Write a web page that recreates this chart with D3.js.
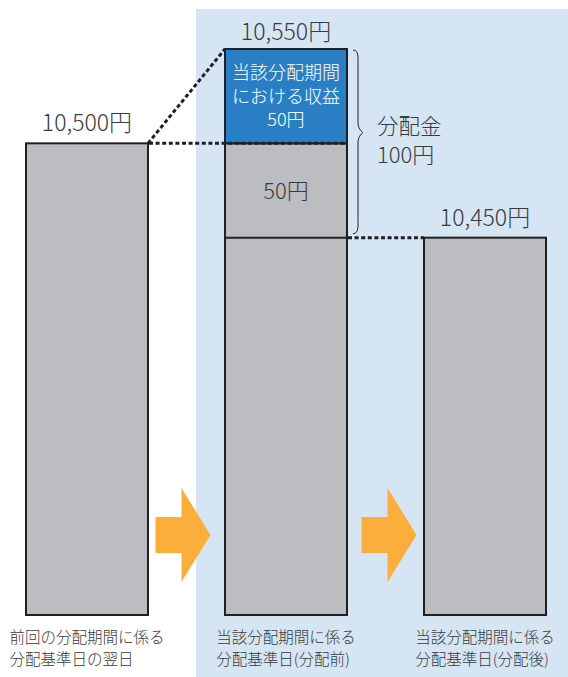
<!DOCTYPE html>
<meta charset="utf-8">
<style>
body { margin: 0; background: #fff; }
svg text { font-family: "Noto Sans CJK JP", "Noto Sans", sans-serif; font-weight: 300; fill: #3a3a3a; }
.bar { stroke: #231f20; stroke-width: 2; }
.dash { fill: none; stroke: #231f20; stroke-width: 3; stroke-dasharray: 4 2.6; }
</style>
<body>
<div id="chart"></div>
<script src="https://d3js.org/d3.v7.min.js"></script>
<script>

// data
var categories = [
  ["前回の分配期間に係る", "分配基準日の翌日"],
  ["当該分配期間に係る", "分配基準日(分配前)"],
  ["当該分配期間に係る", "分配基準日(分配後)"]
];
var navValues   = [10500, 10550, 10450];   // yen
var incomePart  = 50;                      // 当該分配期間における収益
var capitalPart = 50;                      // rest of the distribution
var distTotal   = incomePart + capitalPart;
var yBase = 10250;

var width = 568, height = 677;

var svg = d3.select("#chart").append("svg")
    .attr("width", width)
    .attr("height", height);

var x = d3.scaleBand()
    .domain(d3.range(categories.length))
    .range([26, 546])
    .paddingInner(0.387)
    .paddingOuter(0);

var y = d3.scaleLinear()
    .domain([yBase, navValues[1]])
    .range([615, 49]);

var bw = x.bandwidth();
var fmt = d3.format(",");

// light blue panel behind the current-period bars
svg.append("rect")
    .attr("x", x(1) - 29)
    .attr("y", 9)
    .attr("width", width - (x(1) - 29))
    .attr("height", height - 9)
    .attr("fill", "#d5e5f4");

// arrows between bars
var arrow = function(cx, cy){
    var pts = [[-28, -18], [-2, -18], [-2, -47], [27, 0], [-2, 47], [-2, 18], [-28, 18]];
    return "M" + pts.map(p => (cx + p[0]) + "," + (cy + p[1])).join("L") + "Z";
};
var arrowShift = [-3, 4];
[0, 1].forEach(function(i){
    var gapMid = (x(i) + bw + x(i + 1)) / 2;
    svg.append("path")
        .attr("d", arrow(gapMid + arrowShift[i], y(yBase) - 80))
        .attr("fill", "#fbae3c");
});

// bars (grey)
svg.selectAll(".bar")
    .data(navValues)
    .enter().append("rect")
    .attr("class", "bar")
    .attr("x", (d, i) => x(i))
    .attr("y", (d, i) => y(i == 1 ? d - incomePart : d))
    .attr("width", bw)
    .attr("height", (d, i) => y(yBase) - y(i == 1 ? d - incomePart : d))
    .attr("fill", "#bcbdc0");

// income segment (blue) on bar 2
svg.append("rect")
    .attr("class", "bar")
    .attr("x", x(1))
    .attr("y", y(navValues[1]))
    .attr("width", bw)
    .attr("height", y(navValues[1] - incomePart) - y(navValues[1]))
    .attr("fill", "#2a7fc4");

// line splitting capital part from the remaining NAV
svg.append("line")
    .attr("x1", x(1)).attr("x2", x(1) + bw)
    .attr("y1", y(navValues[1] - distTotal)).attr("y2", y(navValues[1] - distTotal))
    .attr("stroke", "#231f20").attr("stroke-width", 2);

// dotted connectors
svg.append("line").attr("class", "dash")
    .attr("x1", x(0) + bw).attr("y1", y(navValues[0]))
    .attr("x2", x(1)).attr("y2", y(navValues[1]));
svg.append("line").attr("class", "dash")
    .attr("x1", x(0) + bw + 1).attr("y1", y(navValues[0]))
    .attr("x2", x(1) + bw).attr("y2", y(navValues[0]));
svg.append("line").attr("class", "dash")
    .attr("x1", x(1) + bw + 1).attr("y1", y(navValues[2]))
    .attr("x2", x(2)).attr("y2", y(navValues[2]));

// value labels above bars
svg.selectAll(".val")
    .data(navValues)
    .enter().append("text")
    .attr("class", "val")
    .attr("x", (d, i) => x(i) + bw / 2)
    .attr("y", (d, i) => y(d) - (i == 1 ? 9 : 12))
    .attr("text-anchor", "middle")
    .attr("font-size", 23)
    .text(d => fmt(d) + "円");

// text inside blue segment
var cx2 = x(1) + bw / 2;
["当該分配期間", "における収益", incomePart + "円"].forEach(function(t, k){
    svg.append("text")
        .attr("x", cx2)
        .attr("y", y(navValues[1]) + 30 + k * 23.5)
        .attr("text-anchor", "middle")
        .attr("font-size", 18)
        .style("fill", "#ffffff")
        .text(t);
});

// text inside capital segment
svg.append("text")
    .attr("x", cx2)
    .attr("y", (y(navValues[1] - incomePart) + y(navValues[1] - distTotal)) / 2 + 8)
    .attr("text-anchor", "middle")
    .attr("font-size", 22)
    .text(capitalPart + "円");

// curly brace for the distribution
var bx = x(1) + bw + 6, by1 = y(navValues[1]) + 1, by2 = y(navValues[1] - distTotal) - 4;
var bt = by1 + (by2 - by1) * 0.45, bwid = 10;
svg.append("path")
    .attr("d",
        "M" + bx + "," + by1 +
        "C" + (bx + bwid * 0.6) + "," + by1 + " " + (bx + bwid * 0.5) + "," + (by1 + 8) + " " + (bx + bwid * 0.5) + "," + (by1 + 16) +
        "L" + (bx + bwid * 0.5) + "," + (bt - 10) +
        "C" + (bx + bwid * 0.5) + "," + (bt - 3) + " " + (bx + bwid) + "," + bt + " " + (bx + bwid) + "," + bt +
        "C" + (bx + bwid) + "," + bt + " " + (bx + bwid * 0.5) + "," + (bt + 3) + " " + (bx + bwid * 0.5) + "," + (bt + 10) +
        "L" + (bx + bwid * 0.5) + "," + (by2 - 16) +
        "C" + (bx + bwid * 0.5) + "," + (by2 - 8) + " " + (bx + bwid * 0.6) + "," + by2 + " " + bx + "," + by2)
    .attr("fill", "none")
    .attr("stroke", "#231f20")
    .attr("stroke-width", 1);

svg.append("text")
    .attr("x", bx + 24)
    .attr("y", bt + 1)
    .attr("font-size", 21.5)
    .text("分配金");
svg.append("text")
    .attr("x", bx + 24)
    .attr("y", bt + 30)
    .attr("font-size", 22)
    .text(distTotal + "円");

// category labels under bars (left aligned block, centred on bar)
categories.forEach(function(lines, i){
    var g = svg.append("g");
    var txt = g.selectAll("text")
        .data(lines)
        .enter().append("text")
        .attr("y", (d, k) => y(yBase) + 28 + k * 22)
        .attr("font-size", 15.5)
        .text(d => d);
    var w = d3.max(txt.nodes(), n => n.getComputedTextLength());
    txt.attr("x", x(i) + bw / 2 - w / 2);
});

</script>
</body>
